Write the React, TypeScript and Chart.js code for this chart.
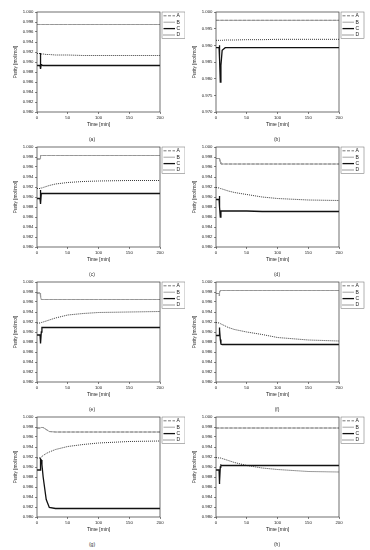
import React, { useEffect, useRef } from "react";
import { Chart, registerables } from "chart.js";
Chart.register(...registerables);

// Shared time axis [min]
const T = [0, 5, 5.5, 6, 7, 8, 10, 15, 20, 30, 50, 75, 100, 150, 200];
const seriesNames = ["A", "B", "C", "D"];
const xTicks = [0, 50, 100, 150, 200];
const panelLabels = ["(a)", "(b)", "(c)", "(d)", "(e)", "(f)", "(g)", "(h)"];

// (a)
const aB = [0.9975, 0.9975, 0.9975, 0.9975, 0.9975, 0.9975, 0.9975, 0.9975, 0.9975, 0.9975, 0.9975, 0.9975, 0.9975, 0.9975, 0.9975];
const aC = [0.9893, 0.9893, 0.9918, 0.9886, 0.9895, 0.9894, 0.9893, 0.9893, 0.9893, 0.9893, 0.9893, 0.9893, 0.9893, 0.9893, 0.9893];
const aD = [0.9917, 0.9917, 0.9917, 0.9917, 0.9916, 0.9916, 0.9916, 0.9915, 0.9915, 0.9914, 0.9914, 0.9913, 0.9913, 0.9913, 0.9913];
// (b)
const bB = [0.9975, 0.9975, 0.9975, 0.9975, 0.9975, 0.9975, 0.9975, 0.9975, 0.9975, 0.9975, 0.9975, 0.9975, 0.9975, 0.9975, 0.9975];
const bC = [0.9893, 0.9893, 0.9900, 0.9860, 0.9790, 0.9840, 0.9885, 0.9893, 0.9893, 0.9893, 0.9893, 0.9893, 0.9893, 0.9893, 0.9893];
const bD = [0.9915, 0.9915, 0.9915, 0.9915, 0.9915, 0.9915, 0.9915, 0.9916, 0.9916, 0.9916, 0.9917, 0.9917, 0.9918, 0.9918, 0.9918];
// (c)
const cB = [0.9976, 0.9976, 0.9978, 0.9983, 0.9983, 0.9983, 0.9983, 0.9983, 0.9983, 0.9983, 0.9983, 0.9983, 0.9983, 0.9983, 0.9983];
const cC = [0.9897, 0.9897, 0.9914, 0.9886, 0.9907, 0.9907, 0.9907, 0.9907, 0.9907, 0.9907, 0.9907, 0.9907, 0.9907, 0.9907, 0.9907];
const cD = [0.9917, 0.9917, 0.9917, 0.9918, 0.9918, 0.9918, 0.9919, 0.9921, 0.9923, 0.9926, 0.9929, 0.9931, 0.9932, 0.9933, 0.9933];
// (d)
const dB = [0.9977, 0.9977, 0.9978, 0.9976, 0.9970, 0.9966, 0.9966, 0.9966, 0.9966, 0.9966, 0.9966, 0.9966, 0.9966, 0.9966, 0.9966];
const dC = [0.9895, 0.9895, 0.9902, 0.9880, 0.9860, 0.9872, 0.9872, 0.9872, 0.9872, 0.9872, 0.9872, 0.9871, 0.9871, 0.9871, 0.9871];
const dD = [0.9919, 0.9918, 0.9918, 0.9918, 0.9917, 0.9917, 0.9916, 0.9914, 0.9912, 0.9909, 0.9905, 0.9900, 0.9897, 0.9894, 0.9893];
// (e)
const eB = [0.9978, 0.9978, 0.9977, 0.9970, 0.9965, 0.9965, 0.9965, 0.9965, 0.9965, 0.9965, 0.9965, 0.9965, 0.9965, 0.9965, 0.9965];
const eC = [0.9894, 0.9894, 0.9880, 0.9877, 0.9900, 0.9909, 0.9909, 0.9909, 0.9909, 0.9909, 0.9909, 0.9909, 0.9909, 0.9909, 0.9909];
const eD = [0.9918, 0.9918, 0.9918, 0.9918, 0.9919, 0.9919, 0.9920, 0.9922, 0.9924, 0.9928, 0.9934, 0.9937, 0.9939, 0.9940, 0.9941];
// (f)
const fB = [0.9977, 0.9977, 0.9972, 0.9980, 0.9983, 0.9983, 0.9983, 0.9983, 0.9983, 0.9983, 0.9983, 0.9983, 0.9983, 0.9983, 0.9983];
const fC = [0.9893, 0.9893, 0.9909, 0.9905, 0.9885, 0.9876, 0.9875, 0.9875, 0.9875, 0.9875, 0.9875, 0.9875, 0.9875, 0.9875, 0.9875];
const fD = [0.9919, 0.9918, 0.9918, 0.9918, 0.9917, 0.9916, 0.9915, 0.9912, 0.9909, 0.9905, 0.9900, 0.9895, 0.9889, 0.9884, 0.9882];
// (g)
const gB = [0.9978, 0.9978, 0.9978, 0.9978, 0.9979, 0.9979, 0.9979, 0.9975, 0.9971, 0.9970, 0.9970, 0.9970, 0.9970, 0.9970, 0.9970];
const gC = [0.9894, 0.9894, 0.9912, 0.9916, 0.9914, 0.9905, 0.9880, 0.9835, 0.9819, 0.9817, 0.9817, 0.9817, 0.9817, 0.9817, 0.9817];
const gD = [0.9918, 0.9918, 0.9918, 0.9919, 0.9920, 0.9921, 0.9923, 0.9927, 0.9930, 0.9935, 0.9941, 0.9945, 0.9948, 0.9951, 0.9952];
// (h)
const hB = [0.9978, 0.9978, 0.9978, 0.9978, 0.9978, 0.9978, 0.9978, 0.9978, 0.9978, 0.9978, 0.9978, 0.9978, 0.9978, 0.9978, 0.9978];
const hC = [0.9894, 0.9894, 0.9866, 0.9870, 0.9900, 0.9904, 0.9903, 0.9903, 0.9903, 0.9903, 0.9903, 0.9903, 0.9903, 0.9903, 0.9903];
const hD = [0.9919, 0.9918, 0.9918, 0.9918, 0.9918, 0.9918, 0.9917, 0.9915, 0.9913, 0.9909, 0.9903, 0.9898, 0.9895, 0.9891, 0.9890];

// Series A coincides with B in every panel
const panelSeries = [
  [aB, aB, aC, aD],
  [bB, bB, bC, bD],
  [cB, cB, cC, cD],
  [dB, dB, dC, dD],
  [eB, eB, eC, eD],
  [fB, fB, fC, fD],
  [gB, gB, gC, gD],
  [hB, hB, hC, hD],
];
const yRanges = [
  [0.98, 1.0, 0.002],
  [0.97, 1.0, 0.005],
  [0.98, 1.0, 0.002],
  [0.98, 1.0, 0.002],
  [0.98, 1.0, 0.002],
  [0.98, 1.0, 0.002],
  [0.98, 1.0, 0.002],
  [0.98, 1.0, 0.002],
];

const FONT = "'Liberation Sans', Arial, sans-serif";
const styles = [
  { color: "#555", width: 0.8, dash: [3, 1.5], order: 2 },
  { color: "#9a9a9a", width: 0.9, dash: [], order: 1 },
  { color: "#111", width: 1.3, dash: [], order: 0 },
  { color: "#222", width: 0.9, dash: [1, 1], order: 0 },
];

const framePlugin = {
  id: "frame",
  afterDraw(chart: any) {
    const { ctx, chartArea: a } = chart;
    ctx.save();
    ctx.strokeStyle = "#333";
    ctx.lineWidth = 0.7;
    ctx.strokeRect(a.left, a.top, a.right - a.left, a.bottom - a.top);
    // legend box
    const lx = a.right + 2;
    const ly = a.top;
    ctx.strokeStyle = "#666";
    ctx.lineWidth = 0.5;
    ctx.strokeRect(lx, ly, 23, 26.5);
    ctx.font = `5px ${FONT}`;
    ctx.textBaseline = "middle";
    ctx.fillStyle = "#222";
    seriesNames.forEach((n, i) => {
      const y = ly + 3.8 + i * 6.4;
      const s = styles[i];
      ctx.beginPath();
      ctx.setLineDash(s.dash);
      ctx.strokeStyle = s.color;
      ctx.lineWidth = s.width;
      ctx.moveTo(lx + 1.5, y);
      ctx.lineTo(lx + 13, y);
      ctx.stroke();
      ctx.setLineDash([]);
      ctx.fillText(n, lx + 14.5, y);
    });
    ctx.restore();
  },
};

function Panel({ idx }: { idx: number }) {
  const ref = useRef<HTMLCanvasElement>(null);
  const col = idx % 2;
  const row = Math.floor(idx / 2);
  const w = col === 0 ? 185 : 191;
  const h = 130;
  useEffect(() => {
    const [ymin, ymax, ystep] = yRanges[idx];
    const series = panelSeries[idx];
    const chart = new Chart(ref.current!, {
      type: "line",
      data: {
        datasets: series.map((vals, i) => ({
          label: seriesNames[i],
          data: T.map((t, k) => ({ x: t, y: vals[k] })),
          borderColor: styles[i].color,
          borderWidth: styles[i].width,
          borderDash: styles[i].dash,
          order: styles[i].order,
          pointRadius: 0,
          tension: 0,
          fill: false,
        })),
      },
      options: {
        responsive: false,
        animation: false,
        events: [],
        layout: { padding: { left: 0, top: 12, right: w - 160, bottom: 0 } },
        plugins: { legend: { display: false }, tooltip: { enabled: false } },
        scales: {
          x: {
            type: "linear",
            min: 0,
            max: 200,
            afterBuildTicks: (s: any) => {
              s.ticks = xTicks.map((v) => ({ value: v }));
            },
            afterFit: (s: any) => {
              s.height = 18;
            },
            ticks: { font: { size: 4.3, family: FONT }, color: "#222", padding: 1, maxRotation: 0 },
            grid: { drawOnChartArea: false, tickLength: 2, color: "#333", lineWidth: 0.6 },
            border: { display: false },
            title: { display: true, text: "Time [min]", font: { size: 5, family: FONT }, color: "#222", padding: { top: 0, bottom: 2 } },
          },
          y: {
            type: "linear",
            min: ymin,
            max: ymax,
            ticks: {
              stepSize: ystep,
              font: { size: 4.3, family: FONT },
              color: "#222",
              padding: 1.5,
              callback: (v: any) => Number(v).toFixed(3),
            },
            afterFit: (s: any) => {
              s.width = 37;
            },
            grid: { drawOnChartArea: false, tickLength: 2, color: "#333", lineWidth: 0.6 },
            border: { display: false },
            title: { display: true, text: "Purity [mol/mol]", font: { size: 4.7, family: FONT }, color: "#222", padding: { top: 13, bottom: 0 } },
          },
        },
      },
      plugins: [framePlugin],
    } as any);
    return () => chart.destroy();
  }, [idx]);
  return (
    <div style={{ position: "absolute", left: col === 0 ? 0 : 179, top: row * 135, width: w, height: h }}>
      <canvas ref={ref} width={w} height={h} style={{ width: w, height: h, display: "block" }} />
    </div>
  );
}

export default function App() {
  return (
    <div style={{ position: "absolute", left: 0, top: 0, width: 370, height: 550, background: "#fff", overflow: "hidden" }}>
      {panelLabels.map((_, i) => (
        <Panel key={i} idx={i} />
      ))}
      {panelLabels.map((lab, i) => (
        <div
          key={"c" + i}
          style={{
            position: "absolute",
            left: i % 2 === 0 ? 92 : 277,
            top: 139 + Math.floor(i / 2) * 135,
            transform: "translate(-50%, -50%)",
            fontFamily: FONT,
            fontSize: 5,
            color: "#333",
            whiteSpace: "nowrap",
          }}
        >
          {lab}
        </div>
      ))}
    </div>
  );
}
